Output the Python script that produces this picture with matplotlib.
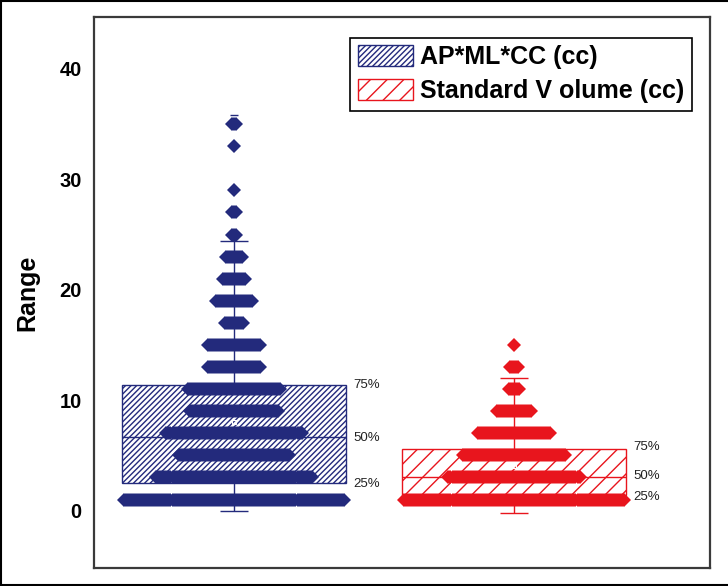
import numpy as np
import matplotlib.pyplot as plt
from matplotlib.lines import Line2D

plt.rcParams['font.family'] = ['Liberation Sans', 'DejaVu Sans']
plt.rcParams['hatch.linewidth'] = 1.0

# values (cc) and how many cases sit at each value
ap_values = [1, 3, 5, 7, 9, 11, 13, 15, 17, 19, 21, 23, 25, 27, 29, 33, 35]
ap_counts = [110, 78, 56, 68, 45, 47, 27, 27, 10, 19, 12, 9, 3, 3, 1, 1, 3]
std_values = [1, 3, 5, 7, 9, 11, 13, 15]
std_counts = [110, 66, 52, 37, 18, 6, 5, 1]

# box statistics: 25%, 50%, 75%, whiskers, mean
ap_quart = [2.5, 6.7, 11.4]
ap_whisk = [0.0, 24.4]
ap_mean = 8.0
ap_max = 35.8
std_quart = [1.4, 3.0, 5.6]
std_whisk = [-0.2, 12.0]
std_mean = 4.0

labels = ['AP*ML*CC (cc)', 'Standard V olume (cc)']
colors = ['#232a7c', '#e8151d']
hatches = ['//////', '//']
positions = [1, 2]

fig = plt.figure(figsize=(7.28, 5.86), dpi=100)
ax = fig.add_axes([94/728, 18/586, (710-94)/728, (568-17)/586])

groups = [
    (ap_values, ap_counts, ap_quart, ap_whisk, ap_mean),
    (std_values, std_counts, std_quart, std_whisk, std_mean),
]
step = 0.0072
handles = []
for pos, (vals, cnts, q, wh, mn), col, hat, lab in zip(positions, groups, colors, hatches, labels):
    b = ax.bar(pos, q[2] - q[0], bottom=q[0], width=0.8, fill=False,
               hatch=hat, edgecolor=col, linewidth=1.0, zorder=1, label=lab)
    handles.append(b)
    ax.hlines(q[1], pos - 0.4, pos + 0.4, color=col, linewidth=1.0, zorder=1)
    ax.vlines(pos, q[2], wh[1], color=col, linewidth=1.0, zorder=1)
    ax.vlines(pos, wh[0], q[0], color=col, linewidth=1.0, zorder=1)
    ax.hlines(wh, pos - 0.05, pos + 0.05, color=col, linewidth=1.0, zorder=1)
    for v, n in zip(vals, cnts):
        xs = pos + (np.arange(n) - (n - 1) / 2) * step
        ax.plot(xs, np.full(n, v), linestyle='none', marker='D', markersize=7.4,
                color=col, markeredgewidth=0, zorder=3)
    ax.plot(pos, mn, marker='s', markersize=3, markerfacecolor='none',
            markeredgecolor='white', markeredgewidth=0.8, zorder=4)

ax.hlines(ap_max, 0.985, 1.015, color=colors[0], linewidth=1.0)

# percentile labels beside the boxes
pct = ['25%', '50%', '75%']
for txt, q, off in zip(pct, ap_quart, [-0.1, -0.1, 0.0]):
    ax.text(1.425, q + off, txt, fontsize=9.5, va='center', ha='left', color='#222222')
for txt, q, off in zip(pct, std_quart, [-0.2, 0.1, 0.2]):
    ax.text(2.425, q + off, txt, fontsize=9.5, va='center', ha='left', color='#222222')

ax.set_xlim(0.5, 2.7)
ax.set_ylim(-5.2, 44.7)
ax.set_yticks([0, 10, 20, 30, 40])
ax.set_xticks([])
ax.tick_params(axis='y', length=0, pad=9, labelsize=14.5)
for t in ax.get_yticklabels():
    t.set_fontweight('bold')
ax.set_ylabel('Range', fontsize=18, fontweight='bold', labelpad=14)
for s in ax.spines.values():
    s.set_linewidth(1.6)
    s.set_color('#3a3a3a')

leg = ax.legend(handles=handles, loc='upper right', bbox_to_anchor=(0.971, 0.962),
                borderaxespad=0, prop={'size': 18, 'weight': 'bold'},
                handlelength=2.2, handleheight=0.9, handletextpad=0.3,
                labelspacing=0.4, fancybox=False, framealpha=1, borderpad=0.3)
leg.get_frame().set_edgecolor('black')
leg.get_frame().set_linewidth(1.2)

# outer picture border
fig.add_artist(Line2D([0.002, 0.002], [0, 1], color='black', linewidth=1.5))
fig.add_artist(Line2D([0, 1], [0.998, 0.998], color='black', linewidth=1.5))
fig.add_artist(Line2D([0, 1], [0.002, 0.002], color='black', linewidth=1.5))

fig.savefig('out.png', dpi=100)
